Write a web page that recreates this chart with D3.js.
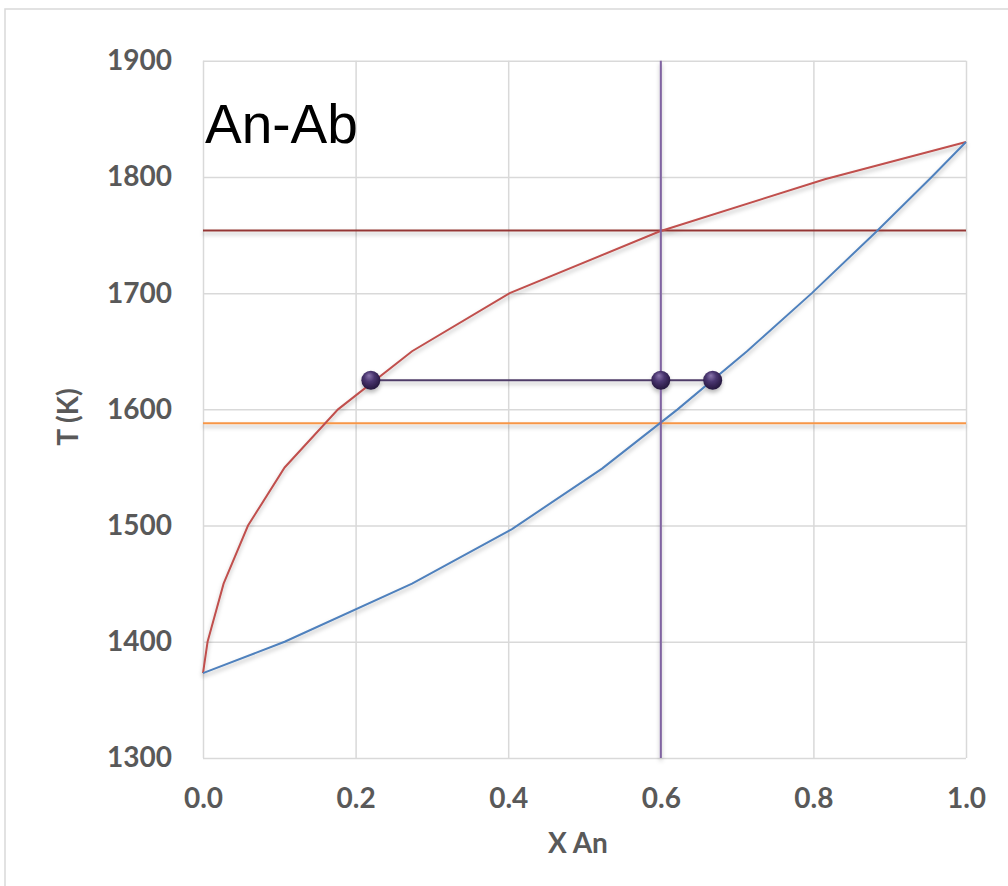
<!DOCTYPE html>
<html>
<head>
<meta charset="utf-8">
<script src="https://cdn.jsdelivr.net/npm/d3@7"></script>
<style>
  body { margin: 0; background: #fff; }
  svg { display: block; }
</style>
</head>
<body>
<div id="chart"></div>
<script>
// liquidus (red) and solidus (blue) points, X An vs T (K)
const liquidusX = [0, 0.006, 0.027, 0.059, 0.107, 0.177, 0.274, 0.402, 0.598, 0.815, 1.0];
const liquidusT = [1373, 1400, 1450, 1500, 1550, 1600, 1650, 1700, 1753, 1798, 1830];
const solidusX = [0, 0.107, 0.274, 0.405, 0.523, 0.622, 0.713, 0.798, 0.881, 0.955, 1.0];
const solidusT = [1373, 1400, 1450, 1497, 1549, 1600, 1650, 1700, 1752, 1800, 1830];

// guide lines
const bulkX = 0.6;          // vertical line
const liquidusAtBulk = 1754; // dark red horizontal
const solidusAtBulk = 1588;  // orange horizontal
const tieT = 1625;
const tieX = [0.22, 0.6, 0.668];

const xTicks = [0, 0.2, 0.4, 0.6, 0.8, 1.0];
const yTicks = [1300, 1400, 1500, 1600, 1700, 1800, 1900];

let width = 1008;
let height = 886;
let plotLeft = 203, plotRight = 966, plotTop = 60.7, plotBottom = 758;

let svg = d3.select("#chart")
    .append("svg")
    .attr("width", width)
    .attr("height", height);

let defs = svg.append("defs");

let shadow = defs.append("filter")
    .attr("id", "shadow")
    .attr("x", "-10%").attr("y", "-10%")
    .attr("width", "120%").attr("height", "130%");
shadow.append("feDropShadow")
    .attr("dx", 0).attr("dy", 3)
    .attr("stdDeviation", 2)
    .attr("flood-color", "#000")
    .attr("flood-opacity", 0.28);

let grad = defs.append("radialGradient")
    .attr("id", "ball")
    .attr("cx", "45%").attr("cy", "40%").attr("r", "60%")
    .attr("fx", "40%").attr("fy", "25%");
grad.append("stop").attr("offset", "0%").attr("stop-color", "#8a76ad");
grad.append("stop").attr("offset", "45%").attr("stop-color", "#4a3670");
grad.append("stop").attr("offset", "100%").attr("stop-color", "#24173d");

// outer chart border
svg.append("rect")
    .attr("x", 5).attr("y", 9)
    .attr("width", width + 20).attr("height", height + 20)
    .attr("fill", "none")
    .attr("stroke", "#d9d9d9")
    .attr("stroke-width", 1.5);

let x = d3.scaleLinear().domain([0, 1]).range([plotLeft, plotRight]);
let y = d3.scaleLinear().domain([1300, 1900]).range([plotBottom, plotTop]);

// axes with gridlines
let xAxis = d3.axisBottom(x)
    .tickValues(xTicks)
    .tickFormat(d3.format(".1f"))
    .tickSize(-(plotBottom - plotTop))
    .tickPadding(30);

let yAxis = d3.axisLeft(y)
    .tickValues(yTicks)
    .tickFormat(d3.format("d"))
    .tickSize(-(plotRight - plotLeft))
    .tickPadding(31);

let gx = svg.append("g")
    .attr("transform", `translate(0, ${plotBottom})`)
    .call(xAxis);
let gy = svg.append("g")
    .attr("transform", `translate(${plotLeft}, 0)`)
    .call(yAxis);

[gx, gy].forEach(function(g) {
    g.select(".domain").remove();
    g.selectAll(".tick line")
        .attr("stroke", "#d9d9d9")
        .attr("stroke-width", 1.5);
    g.selectAll(".tick text")
        .attr("fill", "#595959")
        .style("font-family", "Lato, 'Open Sans', sans-serif")
        .style("font-weight", "bold")
        .style("font-size", "28px");
});

// axis titles
svg.append("text")
    .attr("x", 578)
    .attr("y", 853)
    .attr("text-anchor", "middle")
    .attr("fill", "#595959")
    .style("font-family", "Lato, 'Open Sans', sans-serif")
    .style("font-weight", "bold")
    .style("font-size", "28px")
    .text("X An");

svg.append("text")
    .attr("transform", "translate(78, 417) rotate(-90)")
    .attr("text-anchor", "middle")
    .attr("fill", "#595959")
    .style("font-family", "Lato, 'Open Sans', sans-serif")
    .style("font-weight", "bold")
    .style("font-size", "28px")
    .text("T (K)");

// title inside plot
svg.append("text")
    .attr("x", 205)
    .attr("y", 143)
    .attr("fill", "#000")
    .style("font-family", "'Liberation Sans', Arial, sans-serif")
    .style("font-size", "55px")
    .text("An-Ab");

let line = d3.line()
    .x(function(d) { return x(d[0]); })
    .y(function(d) { return y(d[1]); });

let plot = svg.append("g").attr("filter", "url(#shadow)");

// horizontal guides
plot.append("path")
    .attr("d", line([[0, liquidusAtBulk], [1, liquidusAtBulk]]))
    .attr("fill", "none")
    .attr("stroke", "#943634")
    .attr("stroke-width", 2);

plot.append("path")
    .attr("d", line([[0, solidusAtBulk], [1, solidusAtBulk]]))
    .attr("fill", "none")
    .attr("stroke", "#f79646")
    .attr("stroke-width", 2);

// curves
plot.append("path")
    .attr("d", line(liquidusX.map(function(v, i) { return [v, liquidusT[i]]; })))
    .attr("fill", "none")
    .attr("stroke", "#c0504d")
    .attr("stroke-width", 2);

plot.append("path")
    .attr("d", line(solidusX.map(function(v, i) { return [v, solidusT[i]]; })))
    .attr("fill", "none")
    .attr("stroke", "#4f81bd")
    .attr("stroke-width", 2);

// vertical bulk composition
plot.append("path")
    .attr("d", line([[bulkX, 1300], [bulkX, 1900]]))
    .attr("fill", "none")
    .attr("stroke", "#8064a2")
    .attr("stroke-width", 2);

// tie line with markers
plot.append("path")
    .attr("d", line([[tieX[0], tieT], [tieX[tieX.length - 1], tieT]]))
    .attr("fill", "none")
    .attr("stroke", "#4f3d68")
    .attr("stroke-width", 2);

plot.selectAll(".ball")
    .data(tieX)
    .enter().append("circle")
    .attr("class", "ball")
    .attr("cx", function(d) { return x(d); })
    .attr("cy", y(tieT))
    .attr("r", 9.5)
    .attr("fill", "url(#ball)");
</script>
</body>
</html>
